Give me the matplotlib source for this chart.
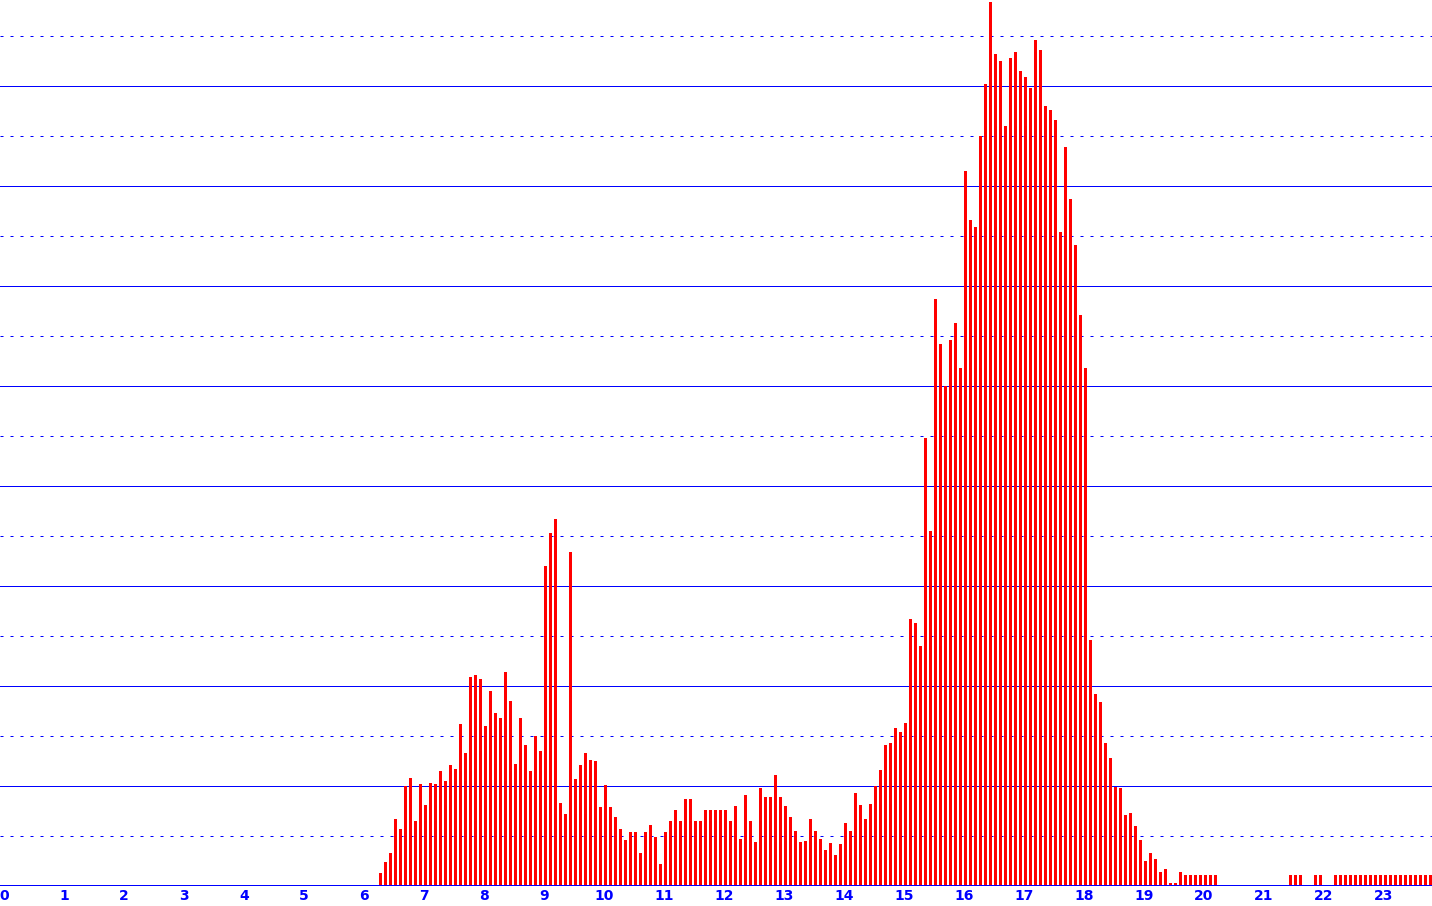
import matplotlib
matplotlib.use("Agg")
import matplotlib.pyplot as plt

# 5-minute counts, first slot 06:15 (bar heights)
FIRST_SLOT = 6.25
counts = [
    13, 24, 33, 67, 57, 100, 108, 65, 102,                     # 06:15-06:55
    81, 103, 102, 115, 105, 121, 117, 162, 133, 209, 211, 207,  # 07
    160, 195, 173, 168, 214, 185, 122, 168, 141, 115, 150, 135,  # 08
    320, 353, 367, 83, 72, 334, 107, 121, 133, 126, 125, 79,     # 09
    101, 79, 69, 57, 46, 54, 54, 33, 54, 61, 49, 22,             # 10
    54, 65, 76, 65, 87, 87, 65, 65, 76, 76, 76, 76,              # 11
    76, 65, 80, 47, 91, 65, 44, 98, 89, 89, 111, 89,             # 12
    80, 69, 55, 44, 45, 67, 55, 47, 36, 43, 31, 42,              # 13
    63, 55, 93, 81, 67, 82, 100, 116, 141, 143, 158, 154,        # 14
    163, 267, 263, 240, 448, 355, 587, 542, 500, 546, 563, 518,  # 15
    715, 666, 659, 750, 802, 884, 832, 825, 760, 828, 834, 815,  # 16
    809, 798, 846, 836, 780, 776, 766, 654, 739, 687, 641, 571,  # 17
    518, 246, 192, 184, 143, 128, 99, 98, 71, 73, 60, 46,        # 18
    25, 33, 27, 14, 17, 3, 3, 14, 11, 11, 11, 11,                # 19
    11, 11, 11, 0, 0, 0, 0, 0, 0, 0, 0, 0,                       # 20
    0, 0, 0, 0, 0, 11, 11, 11, 0, 0, 11, 11,                     # 21
    0, 0, 11, 11, 11, 11, 11, 11, 11, 11, 11, 11,                # 22
    11, 11, 11, 11, 11, 11, 11, 11, 11, 11,                      # 23:00-23:45
]
hours = list(range(24))

x = [FIRST_SLOT + k / 12 for k in range(len(counts))]

fig = plt.figure(figsize=(14.32, 9.06), dpi=100)
ax = fig.add_axes([0, 20 / 906, 1, 886 / 906])
ax.set_xlim(-4 / 60, 1428 / 60)
ax.set_ylim(0, 886)

# grid: solid every 100, dotted in between
for y in range(100, 900, 100):
    ax.axhline(y, color="#0000ff", lw=0.72, zorder=1)
for y in range(50, 900, 100):
    ax.axhline(y, color="#0000ff", lw=0.72, ls=(0, (3, 7)), zorder=1)
ax.axhline(0, color="#0000ff", lw=1.44, zorder=3)

ax.bar(x, counts, width=2.6 / 60, align="edge", color="#ff0000",
       linewidth=0, zorder=2)

for s in ax.spines.values():
    s.set_visible(False)
ax.set_yticks([])
ax.set_xticks(hours)
ax.set_xticklabels([str(h) for h in hours], fontweight="bold")
ax.tick_params(axis="x", length=0, pad=2, labelsize=10, labelcolor="#0000ff")

fig.savefig("out.png", dpi=100)
